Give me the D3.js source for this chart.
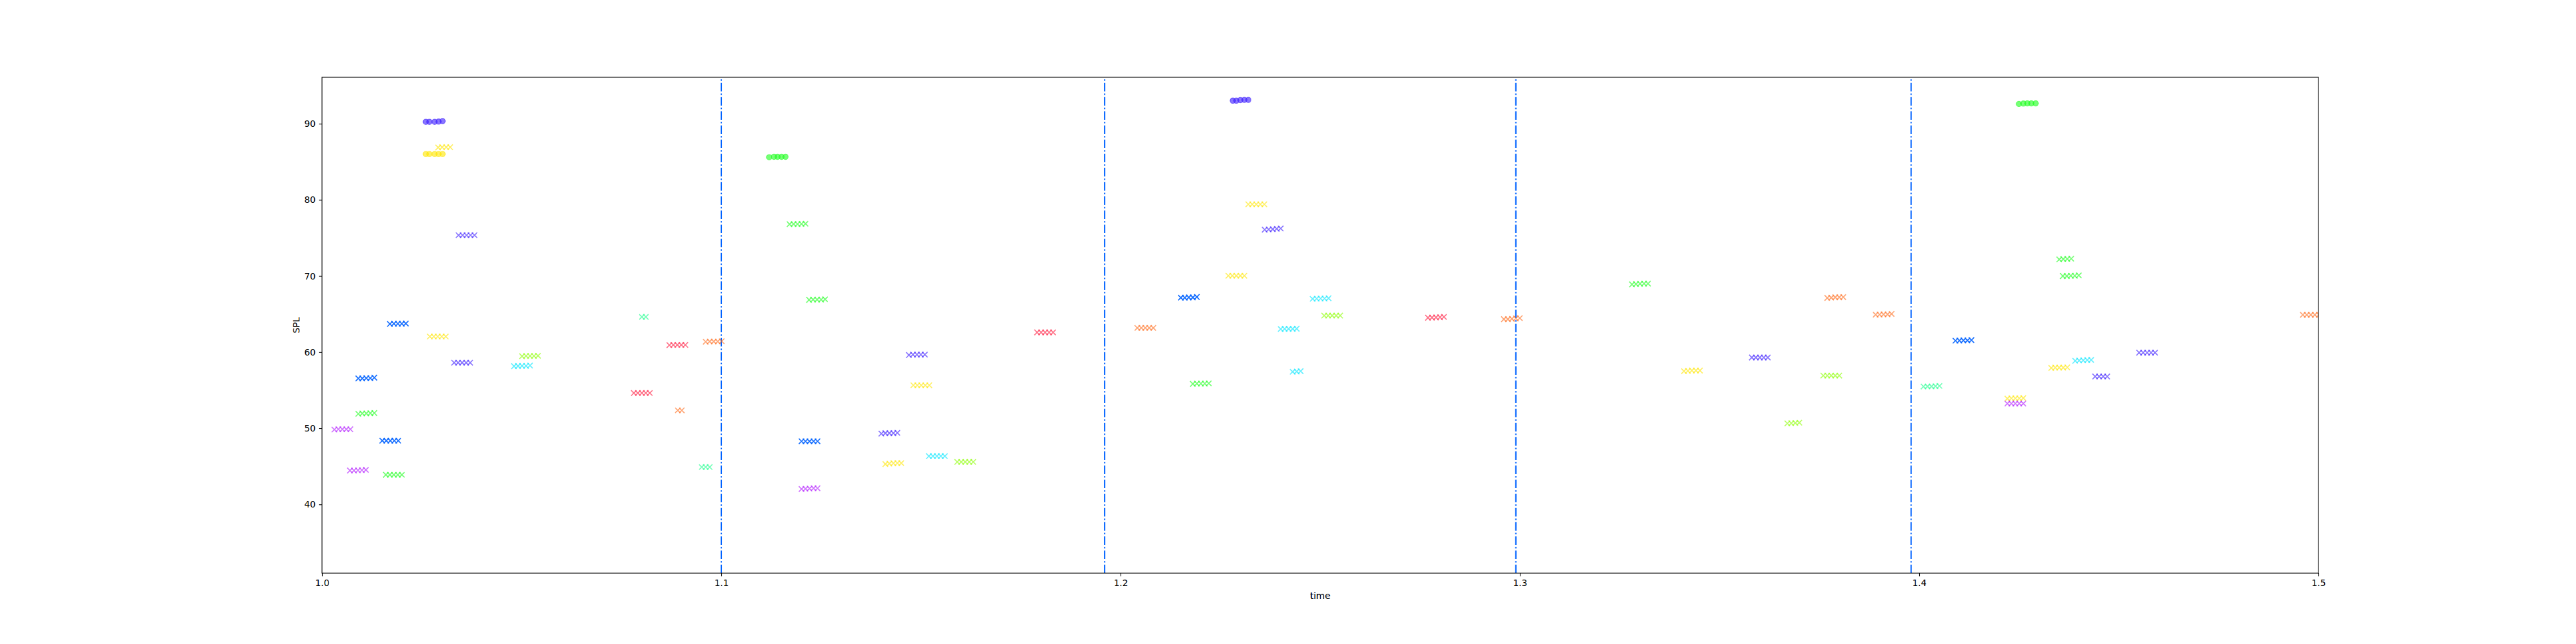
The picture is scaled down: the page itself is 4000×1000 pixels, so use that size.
<!DOCTYPE html>
<html>
<head>
<meta charset="utf-8">
<style>
  html, body { margin: 0; padding: 0; background: #fff; }
  svg { display: block; }
  text { font-family: "DejaVu Sans", sans-serif; fill: #000; }
</style>
<script src="https://cdn.jsdelivr.net/npm/d3@7/dist/d3.min.js"></script>
</head>
<body>
<div id="chart"></div>
<script>
// --- Data ---
const xTicks = [1.0, 1.1, 1.2, 1.3, 1.4, 1.5];
const yTicks = [40, 50, 60, 70, 80, 90];
const sectionTimes = [1.1, 1.196, 1.299, 1.398];

// one entry per trill: pitch colour, marker kind, note times, note levels
const trillPitch = [
  "indigo", "yellow", "green", "indigo", "green",
  "yellow", "indigo", "blue", "spring", "yellow", "orange", "red", "lime", "indigo", "cyan", "blue",
  "red", "orange", "green", "purple", "blue", "spring", "purple", "green",
  "green", "green", "red", "indigo", "yellow", "blue", "indigo", "cyan", "lime", "yellow", "purple",
  "yellow", "indigo", "yellow", "blue", "cyan", "lime", "red", "orange", "orange", "cyan", "cyan", "green",
  "green", "orange", "orange", "indigo", "yellow", "lime", "lime",
  "green", "green", "orange", "blue", "spring", "yellow", "purple", "yellow", "cyan", "indigo", "indigo"
];
const trillMarker = [
  "o", "o", "o", "o", "o",
  "x", "x", "x", "x", "x", "x", "x", "x", "x", "x", "x",
  "x", "x", "x", "x", "x", "x", "x", "x",
  "x", "x", "x", "x", "x", "x", "x", "x", "x", "x", "x",
  "x", "x", "x", "x", "x", "x", "x", "x", "x", "x", "x", "x",
  "x", "x", "x", "x", "x", "x", "x",
  "x", "x", "x", "x", "x", "x", "x", "x", "x", "x", "x"
];
const trillTimes = [
  [1.0260, 1.0269, 1.0282, 1.0292, 1.0302],
  [1.0260, 1.0269, 1.0282, 1.0292, 1.0302],
  [1.1120, 1.1132, 1.1141, 1.1151, 1.1161],
  [1.2281, 1.2290, 1.2300, 1.2310, 1.2320],
  [1.4250, 1.4261, 1.4271, 1.4281, 1.4292],

  [1.0291, 1.0301, 1.0311, 1.0321],
  [1.0342, 1.0352, 1.0362, 1.0372, 1.0382],
  [1.0170, 1.0180, 1.0190, 1.0200, 1.0210],
  [1.0801, 1.0811],
  [1.0270, 1.0280, 1.0290, 1.0300, 1.0310],
  [1.0961, 1.0971, 1.0981, 1.0991, 1.1001],
  [1.0870, 1.0880, 1.0890, 1.0900, 1.0910],
  [1.0501, 1.0511, 1.0521, 1.0531, 1.0541],
  [1.0331, 1.0341, 1.0351, 1.0361, 1.0371],
  [1.0481, 1.0491, 1.0501, 1.0511, 1.0521],
  [1.0091, 1.0101, 1.0111, 1.0121, 1.0131],

  [1.0781, 1.0791, 1.0801, 1.0811, 1.0821],
  [1.0891, 1.0901],
  [1.0091, 1.0101, 1.0111, 1.0121, 1.0131],
  [1.0031, 1.0041, 1.0051, 1.0061, 1.0071],
  [1.0151, 1.0161, 1.0171, 1.0181, 1.0191],
  [1.0951, 1.0961, 1.0971],
  [1.0070, 1.0080, 1.0090, 1.0100, 1.0110],
  [1.0160, 1.0170, 1.0180, 1.0190, 1.0200],

  [1.1171, 1.1181, 1.1191, 1.1201, 1.1211],
  [1.1220, 1.1230, 1.1240, 1.1250, 1.1260],
  [1.1791, 1.1801, 1.1811, 1.1821, 1.1831],
  [1.1470, 1.1480, 1.1490, 1.1500, 1.1510],
  [1.1481, 1.1491, 1.1501, 1.1511, 1.1521],
  [1.1201, 1.1211, 1.1221, 1.1231, 1.1241],
  [1.1401, 1.1411, 1.1421, 1.1431, 1.1441],
  [1.1520, 1.1530, 1.1540, 1.1550, 1.1560],
  [1.1591, 1.1601, 1.1611, 1.1621, 1.1631],
  [1.1411, 1.1421, 1.1431, 1.1441, 1.1451],
  [1.1201, 1.1211, 1.1221, 1.1231, 1.1241],

  [1.2320, 1.2330, 1.2340, 1.2350, 1.2360],
  [1.2361, 1.2371, 1.2381, 1.2391, 1.2401],
  [1.2270, 1.2280, 1.2290, 1.2300, 1.2310],
  [1.2151, 1.2161, 1.2171, 1.2181, 1.2191],
  [1.2481, 1.2491, 1.2501, 1.2511, 1.2521],
  [1.2510, 1.2520, 1.2530, 1.2540, 1.2550],
  [1.2770, 1.2780, 1.2790, 1.2800, 1.2810],
  [1.2960, 1.2970, 1.2980, 1.2990, 1.3000],
  [1.2042, 1.2052, 1.2062, 1.2072, 1.2082],
  [1.2401, 1.2411, 1.2421, 1.2431, 1.2441],
  [1.2431, 1.2441, 1.2451],
  [1.2181, 1.2191, 1.2201, 1.2211, 1.2221],

  [1.3281, 1.3291, 1.3301, 1.3311, 1.3321],
  [1.3770, 1.3780, 1.3790, 1.3800, 1.3810],
  [1.3891, 1.3901, 1.3911, 1.3921, 1.3931],
  [1.3581, 1.3591, 1.3601, 1.3611, 1.3621],
  [1.3411, 1.3421, 1.3431, 1.3441, 1.3451],
  [1.3760, 1.3770, 1.3780, 1.3790, 1.3800],
  [1.3670, 1.3680, 1.3690, 1.3700],

  [1.4351, 1.4361, 1.4371, 1.4381],
  [1.4360, 1.4370, 1.4380, 1.4390, 1.4400],
  [1.4961, 1.4971, 1.4981, 1.4991, 1.5001],
  [1.4091, 1.4101, 1.4111, 1.4121, 1.4131],
  [1.4011, 1.4021, 1.4031, 1.4041, 1.4051],
  [1.4221, 1.4231, 1.4241, 1.4251, 1.4261],
  [1.4221, 1.4231, 1.4241, 1.4251, 1.4261],
  [1.4331, 1.4341, 1.4351, 1.4361, 1.4371],
  [1.4391, 1.4401, 1.4411, 1.4421, 1.4431],
  [1.4441, 1.4451, 1.4461, 1.4471],
  [1.4551, 1.4561, 1.4571, 1.4581, 1.4591]
];
const trillSpl = [
  [90.25, 90.25, 90.25, 90.28, 90.34],
  [86.02, 86.02, 86.02, 86.02, 86.02],
  [85.60, 85.66, 85.66, 85.66, 85.66],
  [93.03, 93.03, 93.10, 93.13, 93.13],
  [92.60, 92.65, 92.67, 92.67, 92.67],

  [86.88, 86.92, 86.92, 86.92],
  [75.36, 75.36, 75.36, 75.36, 75.36],
  [63.70, 63.74, 63.74, 63.74, 63.76],
  [64.62, 64.62],
  [62.05, 62.05, 62.05, 62.05, 62.05],
  [61.36, 61.40, 61.40, 61.40, 61.44],
  [60.92, 60.95, 60.95, 60.95, 60.95],
  [59.46, 59.50, 59.50, 59.50, 59.52],
  [58.61, 58.61, 58.61, 58.61, 58.61],
  [58.15, 58.17, 58.19, 58.19, 58.24],
  [56.55, 56.55, 56.58, 56.58, 56.65],

  [54.63, 54.63, 54.63, 54.63, 54.63],
  [52.35, 52.35],
  [51.90, 51.95, 51.95, 51.98, 52.00],
  [49.83, 49.87, 49.87, 49.87, 49.87],
  [48.37, 48.37, 48.37, 48.37, 48.37],
  [44.90, 44.90, 44.90],
  [44.45, 44.45, 44.48, 44.50, 44.54],
  [43.89, 43.89, 43.89, 43.89, 43.89],

  [76.80, 76.83, 76.83, 76.85, 76.87],
  [66.87, 66.90, 66.90, 66.90, 66.94],
  [62.59, 62.59, 62.59, 62.59, 62.59],
  [59.62, 59.68, 59.68, 59.68, 59.68],
  [55.65, 55.65, 55.65, 55.65, 55.65],
  [48.29, 48.29, 48.29, 48.29, 48.29],
  [49.30, 49.36, 49.36, 49.36, 49.40],
  [46.34, 46.34, 46.34, 46.34, 46.34],
  [45.58, 45.58, 45.58, 45.58, 45.58],
  [45.30, 45.36, 45.40, 45.42, 45.42],
  [42.02, 42.05, 42.08, 42.12, 42.12],

  [79.42, 79.42, 79.42, 79.42, 79.42],
  [76.08, 76.12, 76.15, 76.20, 76.24],
  [70.03, 70.03, 70.03, 70.03, 70.03],
  [67.15, 67.15, 67.18, 67.18, 67.25],
  [67.00, 67.02, 67.04, 67.04, 67.08],
  [64.80, 64.80, 64.80, 64.80, 64.80],
  [64.52, 64.54, 64.56, 64.58, 64.62],
  [64.33, 64.33, 64.37, 64.43, 64.47],
  [63.18, 63.18, 63.18, 63.18, 63.18],
  [63.04, 63.06, 63.06, 63.06, 63.08],
  [57.42, 57.46, 57.50],
  [55.83, 55.87, 55.87, 55.87, 55.90],

  [68.90, 68.94, 68.98, 69.00, 69.00],
  [67.12, 67.15, 67.20, 67.20, 67.22],
  [64.92, 64.94, 64.96, 64.96, 65.02],
  [59.29, 59.29, 59.29, 59.29, 59.29],
  [57.50, 57.54, 57.58, 57.58, 57.58],
  [56.92, 56.92, 56.92, 56.92, 56.92],
  [50.64, 50.67, 50.70, 50.74],

  [72.18, 72.22, 72.24, 72.27],
  [70.00, 70.00, 70.03, 70.03, 70.08],
  [64.90, 64.90, 64.90, 64.90, 64.90],
  [61.50, 61.52, 61.54, 61.54, 61.58],
  [55.48, 55.50, 55.50, 55.52, 55.56],
  [53.90, 53.93, 53.93, 53.93, 53.97],
  [53.25, 53.25, 53.25, 53.25, 53.25],
  [57.92, 57.96, 57.96, 57.96, 58.00],
  [58.86, 58.90, 58.92, 58.96, 58.98],
  [56.80, 56.80, 56.80, 56.80],
  [59.93, 59.93, 59.93, 59.93, 59.93]
];

// --- Layout & color ---
const width = 4000, height = 1000;
const margin = { top: 120, right: 400, bottom: 110, left: 500 };

const pitchNames = ["red", "orange", "yellow", "lime", "green", "spring", "cyan", "blue", "indigo", "purple"];
const pitchColors = ["#ff1a40", "#ff6a1a", "#ffe600", "#8cff00", "#1aff1a", "#1aff8c", "#00e6ff", "#0062ff", "#3a1aff", "#b31aff"];
const colorScale = d3.scaleOrdinal().domain(pitchNames).range(pitchColors);

const x = d3.scaleLinear().domain([1.0, 1.5]).range([margin.left, width - margin.right]);
const y = d3.scaleLinear().domain([30.97, 96.1]).range([height - margin.bottom, margin.top]);

const svg = d3.select("#chart").append("svg")
  .attr("width", width)
  .attr("height", height);

svg.append("defs").append("clipPath").attr("id", "plot-clip")
  .append("rect")
  .attr("x", margin.left).attr("y", margin.top)
  .attr("width", width - margin.left - margin.right)
  .attr("height", height - margin.top - margin.bottom);

const plot = svg.append("g").attr("clip-path", "url(#plot-clip)");

// section lines, drawn bottom to top so the dash pattern starts at the axis
plot.selectAll("line.section")
  .data(sectionTimes)
  .enter().append("line")
  .attr("class", "section")
  .attr("x1", d => x(d)).attr("x2", d => x(d))
  .attr("y1", y.range()[0]).attr("y2", y.range()[1])
  .attr("stroke", "#0062ff")
  .attr("stroke-width", 2.08)
  .attr("stroke-dasharray", "13.3 3.3 2.1 3.3");

const crossPath = d3.symbol(d3.symbolTimes).size(48)();
const dotPath = d3.symbol(d3.symbolCircle).size(55)();

const notes = trillTimes.flatMap((times, i) => times.map((t, j) => ({
  time: t,
  spl: trillSpl[i][j],
  pitch: trillPitch[i],
  marker: trillMarker[i]
})));

// fill and edge carry their own alpha, so circles get a slightly darker rim
const markAlpha = d => d.pitch === "blue" ? 0.9 : 0.6;

plot.append("g").attr("class", "notes")
  .selectAll("path")
  .data(notes)
  .enter().append("path")
  .attr("transform", d => `translate(${x(d.time)},${y(d.spl)})`)
  .attr("d", d => d.marker === "o" ? dotPath : crossPath)
  .attr("fill", d => d.marker === "o" ? colorScale(d.pitch) : "none")
  .attr("fill-opacity", markAlpha)
  .attr("stroke", d => colorScale(d.pitch))
  .attr("stroke-opacity", markAlpha)
  .attr("stroke-width", d => d.marker === "o" ? 1.1 : 1.7);

// --- Axes ---
const xAxis = d3.axisBottom(x).tickValues(xTicks).tickFormat(d3.format(".1f")).tickSizeOuter(0).tickSize(4.9).tickPadding(4.9);
const yAxis = d3.axisLeft(y).tickValues(yTicks).tickSizeOuter(0).tickSize(4.9).tickPadding(4.9);

const gx = svg.append("g").attr("transform", `translate(0,${height - margin.bottom})`).call(xAxis);
const gy = svg.append("g").attr("transform", `translate(${margin.left},0)`).call(yAxis);

[gx, gy].forEach(g => {
  g.select(".domain").remove();
  g.selectAll("line").attr("stroke", "#000").attr("stroke-width", 1.1);
  g.selectAll("text").attr("font-size", 13.9).style("font-family", '"DejaVu Sans", sans-serif').attr("fill", "#000");
});

svg.append("rect")
  .attr("x", margin.left).attr("y", margin.top)
  .attr("width", width - margin.left - margin.right)
  .attr("height", height - margin.top - margin.bottom)
  .attr("fill", "none")
  .attr("stroke", "#000")
  .attr("stroke-width", 1.1);

svg.append("text")
  .attr("x", (margin.left + width - margin.right) / 2)
  .attr("y", 930)
  .attr("text-anchor", "middle")
  .attr("font-size", 13.9)
  .text("time");

svg.append("text")
  .attr("transform", `translate(465,${(margin.top + height - margin.bottom) / 2}) rotate(-90)`)
  .attr("text-anchor", "middle")
  .attr("font-size", 13.9)
  .text("SPL");
</script>
</body>
</html>
